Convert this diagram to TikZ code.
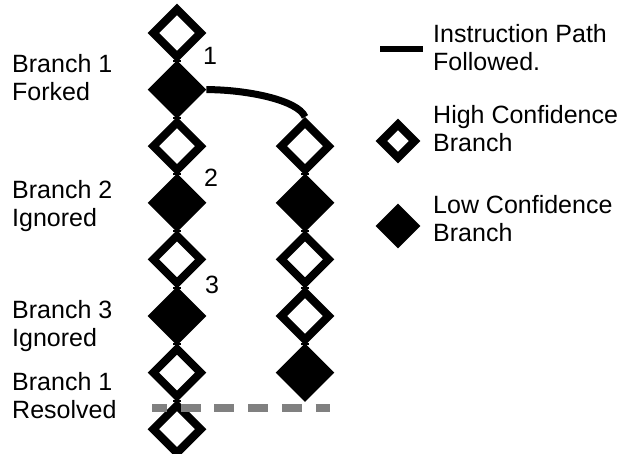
\documentclass[tikz,border=0pt]{standalone}
\usepackage{fontspec}
\setmainfont{Liberation Sans}
\usetikzlibrary{shapes.geometric}
\usetikzlibrary{positioning}

\definecolor{joingray}{RGB}{128,128,128}

\tikzset{
  branch/.style={diamond, draw=black, line width=8pt, inner sep=0pt, minimum size=50.6pt},
  hiconf/.style={branch, fill=white},
  loconf/.style={branch, fill=black},
  keyhi/.style={hiconf, minimum size=36.6pt},
  keylo/.style={loconf, minimum size=36.6pt},
  stem/.style={line width=8pt},
  taken/.style={line width=7pt},
  lbl/.style={inner sep=0pt, align=left, font=\fontsize{25}{28}\selectfont},
}

\begin{document}
\begin{tikzpicture}[x=1pt, y=-1pt, on grid, node distance=56.6pt]
    \useasboundingbox (0,0) rectangle (631,454);

    % main path
    \node[hiconf] (l1) at (177,33) {};
    \node[loconf, below=of l1] (l2) {};
    \node[hiconf, below=of l2] (l3) {};
    \node[loconf, below=of l3] (l4) {};
    \node[hiconf, below=of l4] (l5) {};
    \node[loconf, below=of l5] (l6) {};
    \node[hiconf, below=of l6] (l7) {};
    \node[hiconf, below=of l7] (l8) {};

    % forked path
    \node[hiconf] (r1) at (305,146.2) {};
    \node[loconf, below=of r1] (r2) {};
    \node[hiconf, below=of r2] (r3) {};
    \node[hiconf, below=of r3] (r4) {};
    \node[loconf, below=of r4] (r5) {};

    % resolve point
    \coordinate (rl) at (152,408);
    \coordinate (rr) at (330,408);
    \draw[joingray, line width=8pt, dash pattern=on 20pt off 13.7pt, dash phase=5pt] (rl) -- (rr);

    \draw[stem] (l1.south) -- (l2.north);
    \draw[stem] (l2.south) -- (l3.north);
    \draw[stem] (l3.south) -- (l4.north);
    \draw[stem] (l4.south) -- (l5.north);
    \draw[stem] (l5.south) -- (l6.north);
    \draw[stem] (l6.south) -- (l7.north);
    \draw[stem] (l7.south) -- (l8.north);
    \draw[stem] (r1.south) -- (r2.north);
    \draw[stem] (r2.south) -- (r3.north);
    \draw[stem] (r3.south) -- (r4.north);
    \draw[stem] (r4.south) -- (r5.north);
    \draw[taken] (l2.east) .. controls +(40,0) and +(-7,-17) .. (r1.north);

    \node[lbl, anchor=base] (n1) at (210,65) {1};
    \node[lbl, anchor=base] (n2) at (211,187) {2};
    \node[lbl, anchor=base] (n3) at (212,293) {3};

    \node[lbl, anchor=base west] (b1) at (12,101) {Branch 1\\Forked};
    \node[lbl, anchor=base west] (b2) at (12,226) {Branch 2\\Ignored};
    \node[lbl, anchor=base west] (b3) at (12,346) {Branch 3\\Ignored};
    \node[lbl, anchor=base west] (b4) at (12,418) {Branch 1\\Resolved};

    % key
    \coordinate (kl) at (380,49);
    \coordinate (kr) at (423,49);
    \draw[line width=6pt] (kl) -- (kr);
    \node[keyhi] (khi) at (398,141) {};
    \node[keylo] (klo) at (398,226) {};
    \node[lbl, anchor=base west] (t1) at (433,71) {Instruction Path\\Followed.};
    \node[lbl, anchor=base west] (t2) at (433,152) {High Confidence\\Branch};
    \node[lbl, anchor=base west] (t3) at (433,241) {Low Confidence\\Branch};
\end{tikzpicture}
\end{document}
